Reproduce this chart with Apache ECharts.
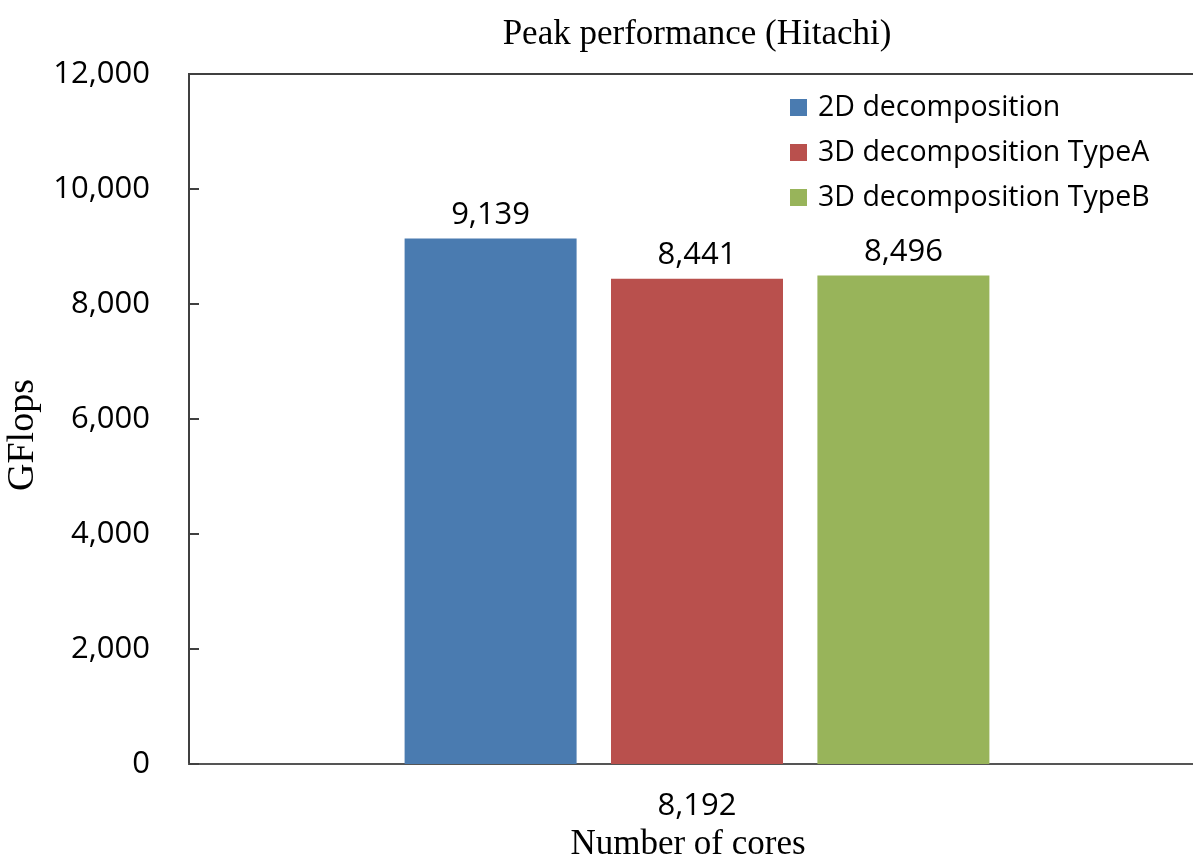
<!DOCTYPE html>
<html>
<head>
<meta charset="utf-8">
<script src="https://cdn.jsdelivr.net/npm/echarts@6/dist/echarts.min.js"></script>
<style>html,body{margin:0;padding:0;background:#fff}#c{width:1193px;height:857px}</style>
</head>
<body>
<div id="c"></div>
<script>
const categories = ['8,192'];
const seriesNames = ['2D decomposition', '3D decomposition TypeA', '3D decomposition TypeB'];
const values2D = [9139];
const values3DA = [8441];
const values3DB = [8496];
const colors = ['#4A7BB0', '#B9504D', '#98B45A'];
const fmt = v => Number(v).toLocaleString('en-US');

const chart = echarts.init(document.getElementById('c'));
const sans = 'Open Sans';
const serif = 'Liberation Serif';
const allValues = [values2D, values3DA, values3DB];
chart.setOption({
  animation: false,
  title: {
    text: 'Peak performance (Hitachi)', left: 692, top: 12, textAlign: 'center',
    textStyle: { fontFamily: serif, fontSize: 35, fontWeight: 'normal', color: '#000' }
  },
  legend: {
    orient: 'vertical', left: 785, top: 88, itemWidth: 17, itemHeight: 17, itemGap: 16,
    icon: 'rect',
    textStyle: { fontFamily: sans, fontSize: 28.5, color: '#000', padding: [0, 0, 0, 6] },
    data: seriesNames
  },
  grid: {
    left: 189, top: 74, right: -12, bottom: 93,
    outerBoundsMode: 'none', containLabel: false,
    show: true, borderColor: '#404040', borderWidth: 2, backgroundColor: 'transparent'
  },
  xAxis: {
    type: 'category', data: categories,
    axisLine: { lineStyle: { color: '#555', width: 2 } },
    axisTick: { show: false },
    axisLabel: { fontFamily: sans, fontSize: 31, color: '#000', margin: 27 },
    name: 'Number of cores', nameLocation: 'middle', nameGap: 51,
    nameTextStyle: { fontFamily: serif, fontSize: 35, color: '#000', padding: [0, 18, 0, 0] }
  },
  yAxis: {
    type: 'value', min: 0, max: 12000, interval: 2000,
    axisLine: { show: true, lineStyle: { color: '#404040', width: 2 } },
    axisTick: { show: true, inside: true, length: 10, lineStyle: { color: '#404040', width: 2 } },
    splitLine: { show: false },
    axisLabel: { fontFamily: sans, fontSize: 31, color: '#000', margin: 39, formatter: v => fmt(v) },
    name: 'GFlops', nameLocation: 'middle', nameGap: 140, nameRotate: 90,
    nameTextStyle: { fontFamily: serif, fontSize: 38, color: '#000', padding: [0, 32, 0, 0] }
  },
  series: seriesNames.map((n, i) => ({
    name: n, type: 'bar', data: allValues[i], barWidth: 172, barGap: '20%',
    itemStyle: { color: colors[i] },
    label: { show: true, position: 'top', distance: 8, fontFamily: sans, fontSize: 31, color: '#000', formatter: p => fmt(p.value) }
  }))
});
</script>
</body>
</html>
